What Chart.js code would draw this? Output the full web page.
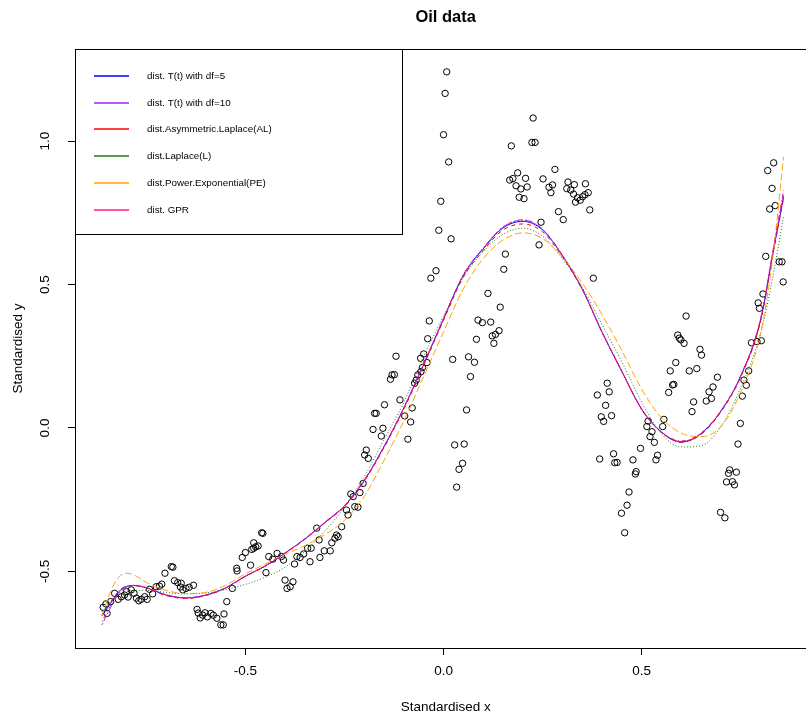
<!DOCTYPE html>
<html>
<head>
<meta charset="utf-8">
<title>Oil data</title>
<script src="https://cdn.jsdelivr.net/npm/chart.js@4.4.0/dist/chart.umd.min.js"></script>
<style>
    html, body { margin: 0; padding: 0; background: #fff; overflow: hidden; }
    #oilChart { display: block; }
</style>
</head>
<body>
<canvas id="oilChart" width="806" height="718"></canvas>
<script>
// observed data: [standardised x, standardised y]
const oilObs = [
    [-0.859,-0.625],[-0.849,-0.646],[-0.852,-0.613],[-0.840,-0.605],[-0.830,-0.576],[-0.821,-0.597],
    [-0.813,-0.588],[-0.805,-0.582],[-0.800,-0.570],[-0.796,-0.589],[-0.788,-0.564],[-0.781,-0.576],
    [-0.775,-0.593],[-0.769,-0.602],[-0.763,-0.597],[-0.754,-0.588],[-0.748,-0.597],[-0.742,-0.562],
    [-0.734,-0.578],[-0.725,-0.553],[-0.717,-0.551],[-0.711,-0.544],[-0.703,-0.506],[-0.687,-0.483],
    [-0.683,-0.485],[-0.679,-0.532],[-0.671,-0.539],[-0.662,-0.541],[-0.664,-0.554],[-0.658,-0.564],
    [-0.650,-0.559],[-0.642,-0.555],[-0.631,-0.548],[-0.622,-0.632],[-0.619,-0.645],[-0.614,-0.662],
    [-0.608,-0.652],[-0.602,-0.644],[-0.596,-0.658],[-0.587,-0.646],[-0.581,-0.652],[-0.572,-0.663],
    [-0.562,-0.686],[-0.556,-0.686],[-0.554,-0.648],[-0.547,-0.605],[-0.533,-0.559],[-0.522,-0.489],
    [-0.521,-0.498],[-0.508,-0.451],[-0.500,-0.434],[-0.487,-0.478],[-0.484,-0.423],[-0.479,-0.419],
    [-0.474,-0.414],[-0.468,-0.411],[-0.479,-0.400],[-0.459,-0.365],[-0.456,-0.367],[-0.448,-0.504],
    [-0.441,-0.448],[-0.431,-0.457],[-0.420,-0.437],[-0.409,-0.448],[-0.404,-0.460],[-0.400,-0.530],
    [-0.395,-0.559],[-0.387,-0.553],[-0.380,-0.536],[-0.376,-0.474],[-0.370,-0.448],[-0.362,-0.451],
    [-0.353,-0.439],[-0.343,-0.419],[-0.334,-0.419],[-0.337,-0.466],[-0.320,-0.349],[-0.314,-0.390],
    [-0.312,-0.451],[-0.301,-0.428],[-0.286,-0.428],[-0.282,-0.400],[-0.274,-0.384],[-0.270,-0.373],
    [-0.266,-0.379],[-0.257,-0.344],[-0.245,-0.286],[-0.241,-0.303],[-0.234,-0.230],[-0.228,-0.239],
    [-0.224,-0.274],[-0.216,-0.276],[-0.211,-0.225],[-0.203,-0.193],[-0.199,-0.094],[-0.190,-0.106],
    [-0.195,-0.077],[-0.178,-0.005],[-0.157,-0.028],[-0.153,-0.001],[-0.174,0.051],[-0.170,0.051],
    [-0.149,0.081],[-0.134,0.170],[-0.130,0.185],[-0.124,0.186],[-0.120,0.250],[-0.110,0.098],
    [-0.098,0.042],[-0.083,0.021],[-0.079,0.070],[-0.090,-0.039],[-0.073,0.156],[-0.069,0.167],
    [-0.065,0.185],[-0.057,0.196],[-0.053,0.211],[-0.058,0.243],[-0.050,0.258],[-0.042,0.228],
    [-0.040,0.311],[-0.036,0.373],[-0.032,0.522],[-0.019,0.548],[-0.012,0.689],[-0.007,0.790],
    [0.000,1.022],[0.004,1.166],[0.008,1.241],[0.013,0.927],[0.019,0.659],[0.023,0.239],
    [0.028,-0.059],[0.052,-0.056],[0.039,-0.144],[0.048,-0.123],[0.033,-0.206],[0.058,0.063],
    [0.063,0.248],[0.078,0.229],[0.068,0.179],[0.083,0.309],[0.087,0.376],[0.098,0.367],
    [0.112,0.469],[0.119,0.369],[0.123,0.321],[0.131,0.326],[0.140,0.339],[0.127,0.295],
    [0.143,0.421],[0.152,0.553],[0.156,0.606],[0.171,0.983],[0.167,0.864],[0.175,0.869],
    [0.183,0.844],[0.187,0.889],[0.195,0.833],[0.207,0.870],[0.211,0.840],[0.191,0.804],
    [0.203,0.799],[0.223,0.995],[0.231,0.995],[0.226,1.080],[0.251,0.868],[0.266,0.839],
    [0.275,0.847],[0.271,0.820],[0.281,0.901],[0.246,0.717],[0.241,0.638],[0.290,0.754],
    [0.302,0.726],[0.314,0.857],[0.311,0.834],[0.321,0.829],[0.330,0.848],[0.328,0.815],
    [0.338,0.802],[0.333,0.787],[0.345,0.794],[0.351,0.806],[0.357,0.813],[0.365,0.820],
    [0.358,0.851],[0.369,0.760],[0.378,0.522],[0.388,0.115],[0.413,0.156],[0.418,0.126],
    [0.409,0.079],[0.398,0.039],[0.404,0.023],[0.424,0.043],[0.429,-0.090],[0.432,-0.121],
    [0.438,-0.120],[0.394,-0.108],[0.449,-0.297],[0.457,-0.365],[0.463,-0.269],[0.468,-0.223],
    [0.478,-0.111],[0.484,-0.160],[0.486,-0.152],[0.497,-0.071],[0.513,0.005],[0.516,0.024],
    [0.521,-0.030],[0.526,-0.013],[0.532,-0.050],[0.536,-0.111],[0.540,-0.095],[0.553,0.005],
    [0.556,0.030],[0.568,0.124],[0.572,0.199],[0.578,0.150],[0.581,0.152],[0.586,0.228],
    [0.591,0.324],[0.595,0.313],[0.599,0.307],[0.607,0.295],[0.612,0.390],[0.620,0.199],
    [0.639,0.207],[0.631,0.091],[0.627,0.057],[0.647,0.274],[0.651,0.254],[0.663,0.094],
    [0.670,0.126],[0.676,0.103],[0.680,0.143],[0.691,0.177],[0.699,-0.294],[0.710,-0.313],
    [0.714,-0.188],[0.719,-0.158],[0.722,-0.146],[0.729,-0.187],[0.734,-0.198],[0.739,-0.154],
    [0.743,-0.056],[0.749,0.016],[0.754,0.111],[0.758,0.167],[0.764,0.149],[0.770,0.199],
    [0.777,0.297],[0.791,0.301],[0.802,0.304],[0.794,0.436],[0.797,0.417],[0.806,0.467],
    [0.813,0.598],[0.818,0.897],[0.823,0.763],[0.829,0.835],[0.833,0.924],[0.837,0.775],
    [0.847,0.579],[0.854,0.579],[0.857,0.509]
];

// fitted curves, evaluated on gridX
const gridX = [-0.862,-0.84,-0.82,-0.80,-0.78,-0.75,-0.70,-0.65,-0.60,-0.55,-0.50,-0.45,-0.40,
    -0.35,-0.30,-0.25,-0.20,-0.15,-0.10,-0.05,0.00,0.05,0.10,0.15,0.20,0.25,0.30,0.35,0.40,
    0.45,0.50,0.55,0.60,0.65,0.70,0.75,0.80,0.83,0.858];

const fitT5 = [-0.655,-0.610,-0.571,-0.552,-0.549,-0.557,-0.582,-0.592,-0.582,-0.557,-0.516,-0.481,-0.436,
    -0.387,-0.330,-0.272,-0.183,-0.065,0.070,0.222,0.380,0.532,0.624,0.697,0.720,0.690,0.600,0.484,0.334,
    0.197,0.066,-0.014,-0.048,-0.019,0.059,0.181,0.376,0.600,0.806];
const fitT10 = [-0.686,-0.625,-0.578,-0.554,-0.549,-0.556,-0.581,-0.592,-0.583,-0.558,-0.517,-0.481,-0.436,
    -0.386,-0.329,-0.270,-0.181,-0.063,0.072,0.224,0.382,0.534,0.627,0.700,0.724,0.692,0.602,0.485,0.333,
    0.196,0.064,-0.016,-0.050,-0.021,0.058,0.181,0.378,0.604,0.815];
const fitAL = [-0.650,-0.606,-0.569,-0.551,-0.549,-0.558,-0.584,-0.594,-0.584,-0.558,-0.517,-0.482,-0.437,
    -0.388,-0.331,-0.274,-0.186,-0.068,0.066,0.218,0.375,0.526,0.618,0.690,0.711,0.683,0.596,0.482,0.334,
    0.198,0.066,-0.015,-0.049,-0.022,0.056,0.178,0.372,0.596,0.800];
const fitLaplace = [-0.640,-0.605,-0.582,-0.570,-0.566,-0.566,-0.573,-0.578,-0.575,-0.563,-0.545,-0.520,-0.485,
    -0.430,-0.360,-0.275,-0.170,-0.040,0.090,0.250,0.390,0.525,0.615,0.675,0.696,0.668,0.590,0.490,0.360,
    0.230,0.090,-0.020,-0.066,-0.062,0.005,0.140,0.330,0.520,0.737];
const fitPE = [-0.655,-0.570,-0.520,-0.506,-0.513,-0.538,-0.566,-0.577,-0.573,-0.548,-0.508,-0.474,-0.440,
    -0.410,-0.372,-0.322,-0.238,-0.112,0.025,0.180,0.335,0.485,0.590,0.655,0.680,0.660,0.595,0.505,0.395,
    0.270,0.135,0.035,-0.018,-0.030,0.005,0.125,0.330,0.585,0.945];
const fitGPR = [-0.675,-0.618,-0.575,-0.553,-0.548,-0.556,-0.582,-0.593,-0.583,-0.557,-0.516,-0.480,-0.435,
    -0.386,-0.329,-0.271,-0.182,-0.064,0.071,0.223,0.381,0.533,0.626,0.700,0.726,0.693,0.602,0.486,0.335,
    0.198,0.064,-0.014,-0.045,-0.017,0.061,0.184,0.382,0.610,0.829];

const fitLabels = ['dist. T(t) with df=5', 'dist. T(t) with df=10', 'dist.Asymmetric.Laplace(AL)',
    'dist.Laplace(L)', 'dist.Power.Exponential(PE)', 'dist. GPR'];
const fitSeries = [fitT5, fitT10, fitAL, fitLaplace, fitPE, fitGPR];
const fitColors = ['#0000ff', '#a020f0', '#ff0000', '#1c7c1c', '#ffa500', '#ff1493'];
const fitDashes = [[], [2, 2, 6, 2], [4, 4], [1, 2], [7, 3], [1, 3, 4, 3]];

const xTicks = [-0.5, 0, 0.5];
const yTicks = [-0.5, 0, 0.5, 1.0];

const FONT = '"Liberation Sans", Arial, Helvetica, sans-serif';

document.addEventListener('DOMContentLoaded', function() {
    const canvas = document.getElementById('oilChart');

    // R-style title, axis labels, y tick labels, box and legend
    const rDecor = {
        id: 'rDecor',
        afterDraw(chart) {
            const ctx = chart.ctx;
            const area = chart.chartArea;
            const ys = chart.scales.y;
            const midX = 445.7;
            ctx.save();

            // plot box (right side runs off the picture)
            ctx.strokeStyle = '#000';
            ctx.lineWidth = 1;
            ctx.strokeRect(area.left + 0.5, area.top + 0.5, area.right - area.left + 20, area.bottom - area.top);

            ctx.fillStyle = '#000';
            ctx.textAlign = 'center';
            ctx.textBaseline = 'middle';

            ctx.font = 'bold 16.5px ' + FONT;
            ctx.fillText('Oil data', midX, 17);

            ctx.font = '13.5px ' + FONT;
            ctx.fillText('Standardised x', midX, 707);

            ctx.save();
            ctx.translate(18, (area.top + area.bottom) / 2);
            ctx.rotate(-Math.PI / 2);
            ctx.fillText('Standardised y', 0, 0);
            ctx.restore();

            yTicks.forEach(v => {
                ctx.save();
                ctx.translate(45, ys.getPixelForValue(v));
                ctx.rotate(-Math.PI / 2);
                ctx.fillText(v.toFixed(1), 0, 0);
                ctx.restore();
            });

            // legend
            const lx = area.left + 0.5, ly = area.top + 0.5, lw = 327, lh = 185;
            ctx.fillStyle = '#fff';
            ctx.fillRect(lx, ly, lw, lh);
            ctx.strokeRect(lx, ly, lw, lh);
            ctx.font = '9.8px ' + FONT;
            ctx.textAlign = 'left';
            fitLabels.forEach((label, i) => {
                const y = Math.round(76 + i * 26.7);
                ctx.strokeStyle = fitColors[i];
                ctx.lineWidth = 1.4;
                ctx.setLineDash([]);
                ctx.beginPath();
                ctx.moveTo(94, y);
                ctx.lineTo(129, y);
                ctx.stroke();
                ctx.fillStyle = '#000';
                ctx.fillText(label, 147, y);
            });
            ctx.restore();
        }
    };

    const lineSets = fitSeries.map((series, i) => ({
        label: fitLabels[i],
        data: gridX.map((x, j) => ({ x: x, y: series[j] })),
        showLine: true,
        borderColor: fitColors[i],
        borderWidth: 1,
        borderDash: fitDashes[i],
        pointRadius: 0,
        cubicInterpolationMode: 'monotone',
        order: 6 - i
    }));

    const oilChart = new Chart(canvas, {
        type: 'scatter',
        data: {
            datasets: [{
                label: 'Oil data',
                data: oilObs.map(p => ({ x: p[0], y: p[1] })),
                pointStyle: 'circle',
                pointRadius: 3.2,
                borderColor: '#000',
                borderWidth: 1,
                backgroundColor: 'rgba(0,0,0,0)',
                showLine: false,
                order: 10
            }].concat(lineSets)
        },
        options: {
            responsive: false,
            animation: false,
            devicePixelRatio: 1,
            events: [],
            layout: { padding: { top: 49, left: 0, right: 0, bottom: 0 } },
            plugins: {
                legend: { display: false },
                title: { display: false },
                tooltip: { enabled: false }
            },
            scales: {
                x: {
                    type: 'linear',
                    min: -0.930,
                    max: 0.902,
                    afterBuildTicks: s => { s.ticks = xTicks.map(v => ({ value: v })); },
                    afterFit: s => { s.height = 70; },
                    border: { display: false },
                    grid: {
                        drawOnChartArea: false,
                        drawTicks: true,
                        tickLength: 7,
                        color: '#000'
                    },
                    ticks: {
                        color: '#000',
                        padding: 8,
                        maxRotation: 0,
                        font: { family: FONT, size: 13.5 },
                        callback: v => v.toFixed(1)
                    }
                },
                y: {
                    type: 'linear',
                    min: -0.7666,
                    max: 1.3206,
                    afterBuildTicks: s => { s.ticks = yTicks.map(v => ({ value: v })); },
                    afterFit: s => { s.width = 75; },
                    border: { display: false },
                    grid: {
                        drawOnChartArea: false,
                        drawTicks: true,
                        tickLength: 7,
                        color: '#000'
                    },
                    ticks: { display: false }
                }
            }
        },
        plugins: [rDecor]
    });
});
</script>
</body>
</html>
